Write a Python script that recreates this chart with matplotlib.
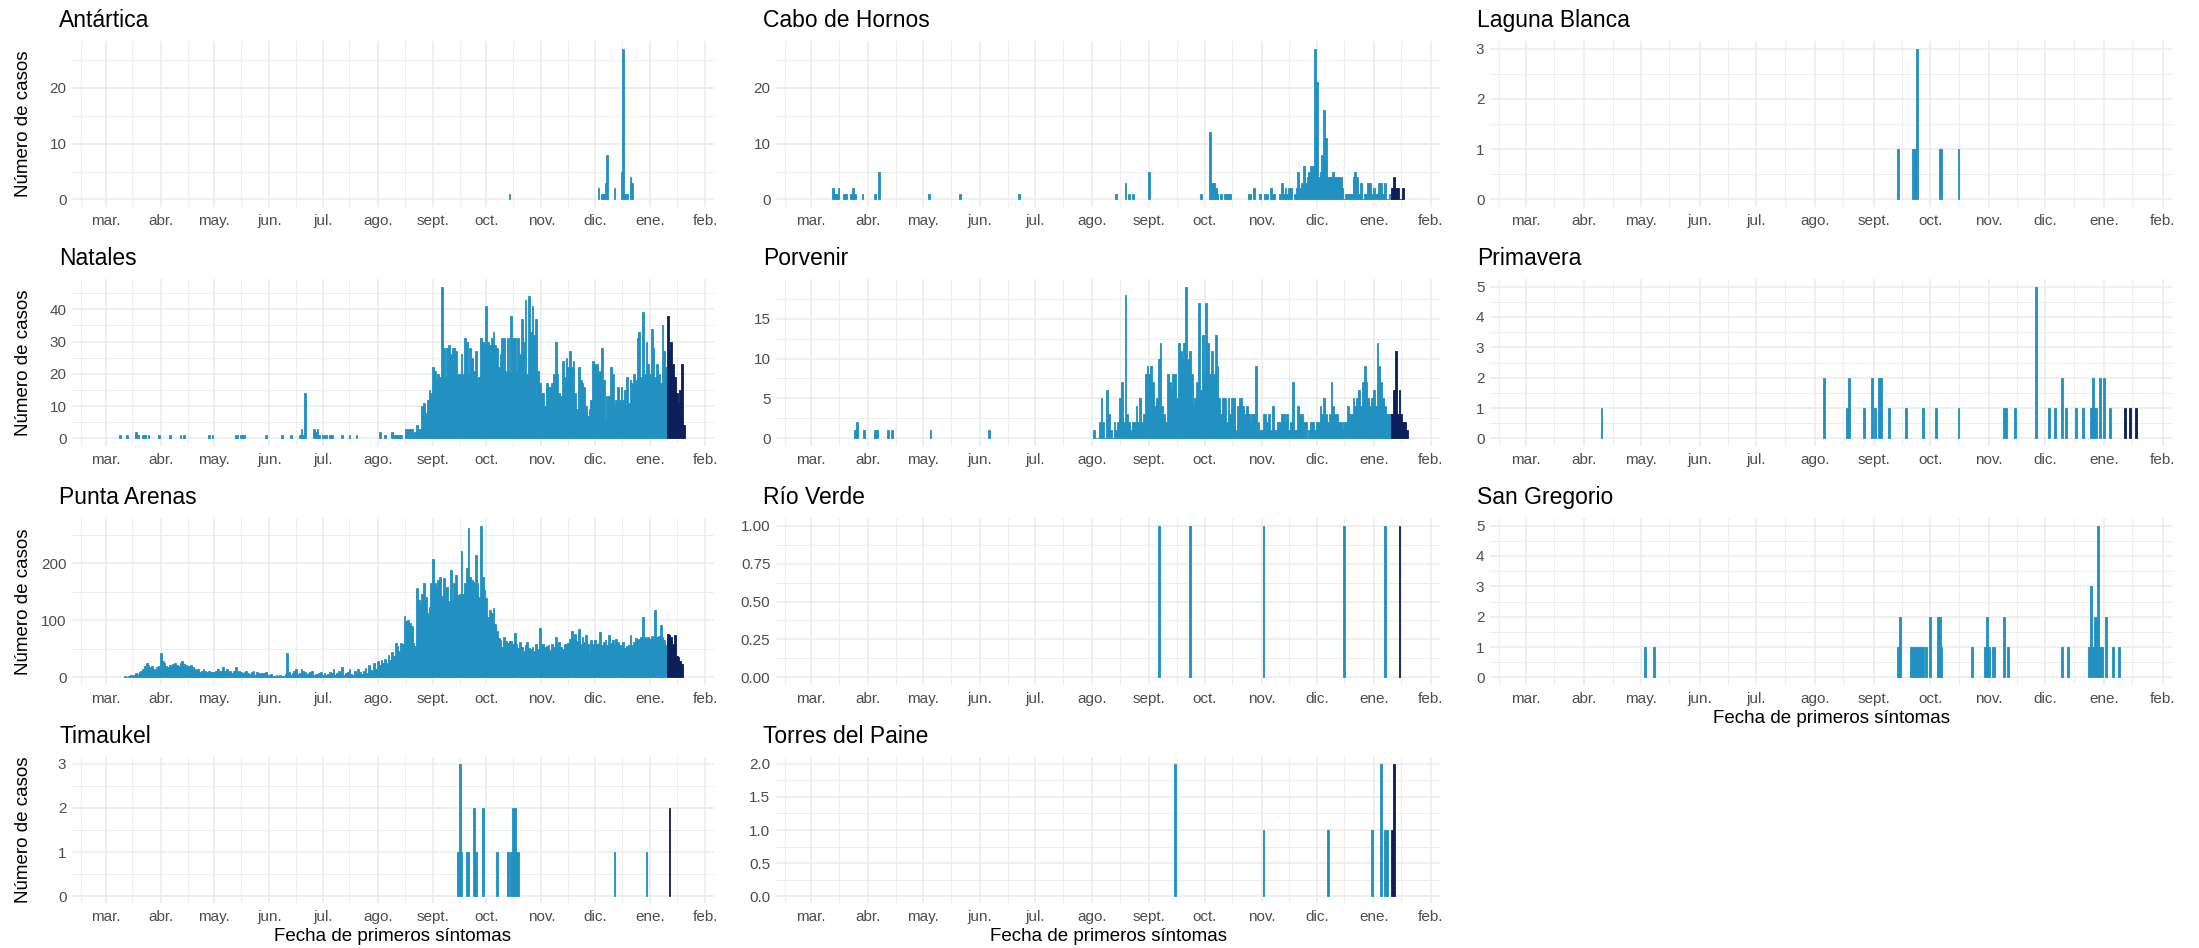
import pandas as pd
import matplotlib
matplotlib.use("Agg")
import matplotlib.pyplot as plt
import matplotlib.dates as mdates
from matplotlib.ticker import MultipleLocator, FormatStrFormatter, FuncFormatter

plt.rcParams['font.family'] = ['Liberation Sans', 'DejaVu Sans']

LIGHT = "#2191C2"
DARK = "#0C1F5A"
GRID = "#EBEBEB"

# casos con fecha de sintomas desde aqui se pintan en oscuro
provisional_from = "2021-01-11"

month_labels = ["ene.", "feb.", "mar.", "abr.", "may.", "jun.", "jul.",
                "ago.", "sept.", "oct.", "nov.", "dic."]

# ---------------- datos ----------------
antartica_dates = ["2020-10-14", "2020-12-03", "2020-12-05", "2020-12-06", "2020-12-07",
                   "2020-12-08", "2020-12-12", "2020-12-16", "2020-12-17", "2020-12-18",
                   "2020-12-19", "2020-12-21", "2020-12-22"]
antartica_cases = [1, 2, 1, 1, 3, 8, 2, 5, 27, 1, 1, 4, 3]

cabo_dates = ["2020-03-13", "2020-03-14", "2020-03-15", "2020-03-16", "2020-03-19",
              "2020-03-20", "2020-03-23", "2020-03-24", "2020-03-25", "2020-03-29",
              "2020-04-05", "2020-04-07", "2020-05-04", "2020-05-21", "2020-06-22",
              "2020-08-14", "2020-08-19", "2020-08-21", "2020-08-23", "2020-09-01",
              "2020-09-29", "2020-10-04", "2020-10-05", "2020-10-06", "2020-10-07",
              "2020-10-08", "2020-10-10", "2020-10-12", "2020-10-13", "2020-10-14",
              "2020-10-15", "2020-10-25", "2020-10-26", "2020-10-28", "2020-10-31",
              "2020-11-03", "2020-11-04", "2020-11-06", "2020-11-07", "2020-11-08",
              "2020-11-11", "2020-11-12", "2020-11-13", "2020-11-14", "2020-11-15",
              "2020-11-16", "2020-11-17", "2020-11-19"]
cabo_cases = [2, 1, 1, 2, 1, 1, 1, 2, 1, 1,
              1, 5, 1, 1, 1,
              1, 3, 1, 1, 5, 1,
              12, 3, 3, 2, 1, 1, 1, 1, 1, 1,
              1, 1, 2, 1,
              1, 1, 2, 1, 1,
              1, 3, 1, 2, 1, 2, 2, 1]
cabo_start = "2020-11-20"
cabo_daily = [2, 5, 2, 3, 6, 3, 4, 5, 6, 6,
              27, 21, 4, 5, 8, 16, 11, 4, 4, 4,
              5, 4, 4, 4, 4, 2, 0, 1, 1, 1,
              1, 4, 5, 4, 1, 3, 0, 1, 1, 3,
              3, 1, 2, 1, 1, 3, 3, 1, 3, 0,
              0, 1, 2, 4, 2, 2, 0, 0, 2]

laguna_dates = ["2020-09-14", "2020-09-22", "2020-09-23", "2020-09-24",
                "2020-10-06", "2020-10-07", "2020-10-16"]
laguna_cases = [1, 1, 1, 3, 1, 1, 1]

natales_dates = ["2020-03-09", "2020-03-13", "2020-03-18", "2020-03-19", "2020-03-22",
                 "2020-03-23", "2020-03-25", "2020-03-31",
                 "2020-04-06", "2020-04-12", "2020-04-14", "2020-04-28", "2020-04-30",
                 "2020-05-13", "2020-05-14", "2020-05-16", "2020-05-17", "2020-05-18",
                 "2020-05-30",
                 "2020-06-08", "2020-06-13", "2020-06-18", "2020-06-19", "2020-06-20",
                 "2020-06-21", "2020-06-26", "2020-06-27", "2020-06-28", "2020-06-29",
                 "2020-07-01", "2020-07-03", "2020-07-05", "2020-07-06", "2020-07-12",
                 "2020-07-16", "2020-07-20",
                 "2020-08-02", "2020-08-05", "2020-08-09", "2020-08-10", "2020-08-11",
                 "2020-08-12", "2020-08-13", "2020-08-14"]
natales_cases = [1, 1, 2, 1, 1, 1, 1, 1,
                 1, 1, 1, 1, 1,
                 1, 1, 1, 1, 1, 1,
                 1, 1, 1, 3, 1, 14, 3, 2, 3, 1,
                 1, 1, 1, 1, 1, 1, 1,
                 2, 1, 2, 1, 1, 1, 1, 1]
natales_start = "2020-08-17"
natales_aug = [3, 3, 3, 3, 1, 2, 4, 3, 3, 10, 11, 8, 12, 15, 14]
natales_sep = [22, 21, 18, 20, 19, 47, 28, 19, 28, 29, 26, 28, 28, 27, 20,
               20, 26, 20, 31, 30, 20, 28, 25, 21, 27, 17, 19, 31, 30, 29]
natales_oct = [41, 30, 29, 31, 33, 29, 28, 22, 26, 31, 31, 21, 31, 21, 38, 31,
               31, 21, 31, 26, 37, 30, 43, 20, 44, 33, 41, 32, 37, 21, 17]
natales_nov = [14, 14, 10, 17, 16, 16, 17, 20, 30, 20, 14, 13, 24, 19, 25,
               22, 27, 22, 24, 14, 9, 22, 18, 17, 16, 10, 7, 9, 12, 24]
natales_dec = [23, 23, 20, 21, 28, 18, 6, 13, 13, 22, 20, 10, 12, 16, 12, 16,
               12, 15, 19, 11, 18, 17, 20, 18, 31, 33, 19, 39, 20, 30, 23]
natales_jan = [20, 34, 28, 19, 23, 20, 17, 35, 27, 22,
               38, 27, 30, 23, 19, 14, 11, 15, 23, 4]

porvenir_dates = ["2020-03-25", "2020-03-26", "2020-03-30", "2020-04-05", "2020-04-06",
                  "2020-04-12", "2020-04-14", "2020-05-05", "2020-06-06"]
porvenir_cases = [1, 2, 1, 1, 1, 1, 1, 1, 1]
porvenir_start = "2020-08-02"
porvenir_daily = [1, 0, 0, 2, 5, 2, 0, 6, 3, 1,
                  0, 2, 1, 2, 5, 7, 2, 18, 3, 2,
                  1, 2, 2, 4, 2, 5, 2, 3, 8, 9,
                  8, 9, 7, 4, 5, 10, 12, 4, 3, 2,
                  8, 7, 6, 8, 8, 5, 12, 11, 10, 12,
                  19, 10, 11, 8, 4, 5, 7, 17, 6, 13,
                  8, 17, 12, 8, 11, 8, 13, 9, 5, 3,
                  5, 5, 2, 5, 3, 5, 5, 1, 4, 5,
                  5, 4, 3, 4, 3, 2, 3, 3, 9, 2,
                  1, 1, 3, 3, 2, 3, 1, 4, 1, 1,
                  2, 2, 3, 3, 2, 3, 1, 2, 7, 1,
                  1, 4, 3, 3, 2, 2, 0, 1, 2, 2,
                  1, 2, 2, 4, 3, 5, 3, 2, 3, 7,
                  4, 3, 3, 2, 2, 1, 2, 2, 4, 3,
                  3, 5, 4, 5, 6, 4, 7, 9, 7, 5,
                  4, 5, 6, 4, 12, 9, 7, 5, 4, 3,
                  3, 3, 3, 6, 11, 3, 6, 3, 2, 2,
                  1]

primavera_dates = ["2020-04-10", "2020-08-06", "2020-08-18", "2020-08-19", "2020-08-27",
                   "2020-08-31", "2020-09-02", "2020-09-04", "2020-09-05", "2020-09-09",
                   "2020-09-18", "2020-09-27", "2020-10-04", "2020-10-16", "2020-11-09",
                   "2020-11-10", "2020-11-15", "2020-11-26", "2020-12-03", "2020-12-06",
                   "2020-12-10", "2020-12-12", "2020-12-17", "2020-12-21", "2020-12-25",
                   "2020-12-26", "2020-12-27", "2020-12-28", "2020-12-30", "2021-01-01",
                   "2021-01-04", "2021-01-12", "2021-01-15", "2021-01-18"]
primavera_cases = [1, 2, 1, 2, 1, 2, 1, 2, 2, 1,
                   1, 1, 1, 1, 1, 1, 1, 5, 1, 1,
                   2, 1, 1, 1, 1, 2, 1, 1, 2, 2,
                   1, 1, 1, 1]

pa_start = "2020-03-12"
pa_mar = [2, 1, 3, 4, 3, 5, 8, 6, 10, 12, 15, 20, 25, 22, 18, 20, 15, 12, 18, 20]
pa_apr = [42, 28, 25, 20, 18, 22, 20, 24, 25, 22, 20, 25, 28, 24, 22,
          18, 20, 22, 18, 15, 12, 14, 10, 12, 15, 11, 10, 12, 10, 9]
pa_may = [10, 12, 15, 10, 12, 18, 12, 14, 10, 12, 8, 12, 18, 10, 12, 9,
          8, 10, 12, 8, 6, 10, 12, 5, 9, 8, 6, 8, 7, 9, 5]
pa_jun = [4, 6, 3, 2, 4, 3, 5, 2, 3, 6, 42, 10, 5, 8, 12,
          15, 6, 8, 14, 12, 10, 6, 8, 9, 12, 5, 6, 4, 7, 10]
pa_jul = [5, 8, 4, 6, 10, 7, 15, 5, 8, 12, 6, 18, 5, 8, 10, 14,
          6, 5, 12, 8, 15, 10, 6, 12, 16, 8, 22, 13, 12, 26, 14]
pa_aug = [28, 22, 30, 25, 33, 26, 40, 30, 45, 38, 60, 55, 47, 60, 58, 108,
          98, 101, 95, 90, 60, 55, 156, 135, 128, 147, 166, 141, 112, 124, 165]
pa_sep = [208, 165, 159, 171, 176, 142, 175, 153, 159, 134, 188, 135, 165, 179, 144,
          147, 222, 147, 165, 191, 262, 176, 171, 168, 215, 165, 141, 266, 176, 153]
pa_oct = [140, 106, 118, 112, 121, 94, 82, 69, 65, 53, 71, 63, 60, 64, 64, 59,
          78, 58, 52, 62, 53, 47, 56, 62, 51, 50, 53, 47, 58, 50, 87]
pa_nov = [56, 59, 53, 55, 57, 48, 59, 53, 71, 56, 62, 53, 50, 59, 56,
          60, 68, 82, 68, 76, 64, 85, 59, 71, 62, 75, 58, 44, 65, 58]
pa_dec = [65, 58, 60, 79, 56, 62, 66, 56, 75, 60, 65, 56, 68, 62, 56, 53,
          62, 52, 55, 57, 74, 56, 62, 69, 65, 68, 70, 106, 71, 68, 71]
pa_jan = [68, 72, 68, 118, 71, 73, 91, 71, 65, 56,
          76, 74, 71, 59, 75, 37, 35, 29, 23]

rioverde_dates = ["2020-09-06", "2020-09-23", "2020-11-02", "2020-12-16",
                  "2021-01-07", "2021-01-15"]
rioverde_cases = [1, 1, 1, 1, 1, 1]

sangregorio_dates = ["2020-05-03", "2020-05-08", "2020-09-14", "2020-09-15", "2020-09-21",
                     "2020-09-22", "2020-09-23", "2020-09-24", "2020-09-25", "2020-09-26",
                     "2020-09-27", "2020-09-29", "2020-10-01", "2020-10-05", "2020-10-06",
                     "2020-10-07", "2020-10-23", "2020-10-30", "2020-10-31", "2020-11-01",
                     "2020-11-03", "2020-11-04", "2020-11-09", "2020-11-11", "2020-12-10",
                     "2020-12-13", "2020-12-24", "2020-12-25", "2020-12-26", "2020-12-27",
                     "2020-12-28", "2020-12-29", "2020-12-30", "2020-12-31", "2021-01-02",
                     "2021-01-06", "2021-01-09"]
sangregorio_cases = [1, 1, 1, 2, 1, 1, 1, 1, 1, 1,
                     1, 1, 2, 2, 2, 1, 1, 1, 2, 1,
                     1, 1, 2, 1, 1, 1, 1, 3, 1, 2,
                     2, 5, 1, 1, 2, 1, 1]

timaukel_dates = ["2020-09-15", "2020-09-16", "2020-09-17", "2020-09-20", "2020-09-21",
                  "2020-09-24", "2020-09-25", "2020-09-29", "2020-10-07", "2020-10-13",
                  "2020-10-15", "2020-10-16", "2020-10-17", "2020-10-18", "2020-10-19",
                  "2020-12-12", "2020-12-30", "2021-01-12"]
timaukel_cases = [1, 3, 1, 1, 1, 2, 1, 2, 1, 1, 1, 2, 2, 1, 1, 1, 1, 2]

torres_dates = ["2020-09-15", "2020-11-02", "2020-12-07", "2020-12-31", "2021-01-05",
                "2021-01-07", "2021-01-08", "2021-01-11", "2021-01-12"]
torres_cases = [2, 1, 1, 1, 2, 1, 1, 1, 2]


def sparse(dates, cases):
    return pd.Series(cases, index=pd.to_datetime(dates))


def daily(start, cases):
    return pd.Series(cases, index=pd.date_range(start, periods=len(cases), freq="D"))


natales = pd.concat([sparse(natales_dates, natales_cases),
                     daily(natales_start, natales_aug + natales_sep + natales_oct +
                           natales_nov + natales_dec + natales_jan)])
punta_arenas = daily(pa_start, pa_mar + pa_apr + pa_may + pa_jun + pa_jul + pa_aug +
                     pa_sep + pa_oct + pa_nov + pa_dec + pa_jan)

# (nombre, serie, paso del eje y, formato)
panels = [
    ("Antártica", sparse(antartica_dates, antartica_cases), 10, "%d"),
    ("Cabo de Hornos", pd.concat([sparse(cabo_dates, cabo_cases),
                                  daily(cabo_start, cabo_daily)]), 10, "%d"),
    ("Laguna Blanca", sparse(laguna_dates, laguna_cases), 1, "%d"),
    ("Natales", natales, 10, "%d"),
    ("Porvenir", pd.concat([sparse(porvenir_dates, porvenir_cases),
                            daily(porvenir_start, porvenir_daily)]), 5, "%d"),
    ("Primavera", sparse(primavera_dates, primavera_cases), 1, "%d"),
    ("Punta Arenas", punta_arenas, 100, "%d"),
    ("Río Verde", sparse(rioverde_dates, rioverde_cases), 0.25, "%.2f"),
    ("San Gregorio", sparse(sangregorio_dates, sangregorio_cases), 1, "%d"),
    ("Timaukel", sparse(timaukel_dates, timaukel_cases), 1, "%d"),
    ("Torres del Paine", sparse(torres_dates, torres_cases), 0.5, "%.1f"),
]

# ---------------- layout (pixeles) ----------------
W, H = 2199, 948
col_x = [(72, 714), (776, 1440), (1490, 2172)]
row_y = [(41, 207), (279, 446), (518, 685), (757, 903)]
bottom_of_col = {0: 3, 1: 3, 2: 2}

xmin = pd.Timestamp("2020-02-11")
xmax = pd.Timestamp("2021-02-06")
cut = pd.Timestamp(provisional_from)

fig = plt.figure(figsize=(W / 100, H / 100), dpi=100)

for i, (name, s, step, fmt) in enumerate(panels):
    r, c = divmod(i, 3)
    x0, x1 = col_x[c]
    y0, y1 = row_y[r]
    ax = fig.add_axes([x0 / W, 1 - y1 / H, (x1 - x0) / W, (y1 - y0) / H])

    s = s.sort_index()
    colors = [DARK if d >= cut else LIGHT for d in s.index]
    ax.bar(s.index, s.values, width=1.0, color=colors, edgecolor=colors,
           linewidth=0.6, zorder=2)

    top = s.max()
    ax.set_ylim(-0.05 * top, 1.05 * top)
    ax.set_xlim(xmin, xmax)

    ax.xaxis.set_major_locator(mdates.MonthLocator())
    ax.xaxis.set_minor_locator(mdates.MonthLocator(bymonthday=16))
    ax.xaxis.set_major_formatter(FuncFormatter(
        lambda v, pos: month_labels[mdates.num2date(v).month - 1]))
    ax.yaxis.set_major_locator(MultipleLocator(step))
    ax.yaxis.set_minor_locator(MultipleLocator(step / 2))
    ax.yaxis.set_major_formatter(FormatStrFormatter(fmt))

    ax.grid(which="major", color=GRID, linewidth=1.1, zorder=0)
    ax.grid(which="minor", color=GRID, linewidth=0.6, zorder=0)
    ax.set_axisbelow(True)
    for sp in ax.spines.values():
        sp.set_visible(False)
    ax.tick_params(which="both", length=0, labelsize=11, labelcolor="#4D4D4D")
    ax.tick_params(axis="x", pad=5)
    ax.tick_params(axis="y", pad=4)

    ax.text(-13 / (x1 - x0), 1 + 14 / (y1 - y0), name, transform=ax.transAxes,
            fontsize=16.5, ha="left", va="baseline", color="black")

    if c == 0:
        fig.text(24 / W, 1 - (y0 + y1) / 2 / H, "Número de casos", rotation=90,
                 fontsize=13.5, ha="center", va="center")
    if bottom_of_col[c] == r:
        ax.set_xlabel("Fecha de primeros síntomas", fontsize=13.5, labelpad=3)

fig.savefig("out.png", dpi=100)
